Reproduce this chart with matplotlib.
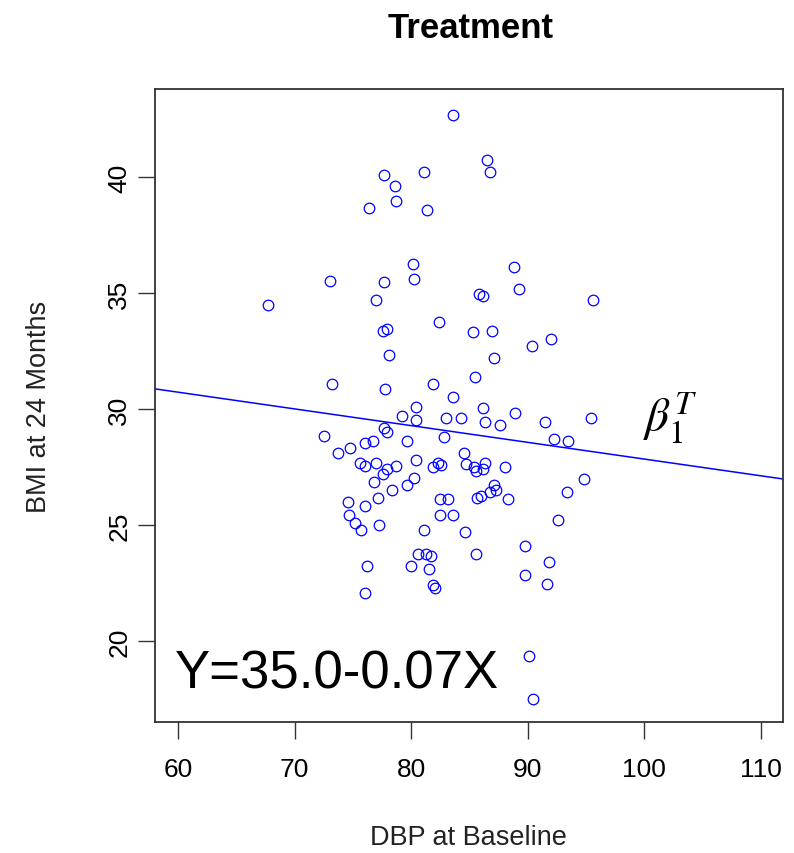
import matplotlib
matplotlib.use("Agg")
import matplotlib.pyplot as plt
import numpy as np

plt.rcParams['font.family'] = ['Liberation Sans', 'DejaVu Sans']
plt.rcParams['mathtext.fontset'] = 'stix'

# DBP at baseline (x) and BMI at 24 months (y)
dbp = [83.6, 86.5, 86.75, 81.08, 77.63, 78.57, 78.72, 76.35, 81.4, 80.14,
       88.83, 73.02, 77.63, 80.28, 89.29, 76.98, 85.81, 86.15, 95.58, 67.67,
       82.36, 77.55, 77.92, 85.33, 86.92, 91.97, 90.4, 78.09, 87.09, 85.5,
       73.19, 77.75, 81.85, 83.62, 80.4, 79.17, 80.45, 82.96, 84.25, 77.63,
       77.92, 82.79, 72.54, 79.63, 74.79, 73.68, 76.04, 76.69, 84.5, 80.4,
       75.64, 76.07, 76.98, 78.72, 82.28, 81.85, 82.56, 84.73, 77.92, 77.55,
       76.84, 80.2, 79.6, 78.38, 77.15, 74.62, 76.04, 74.65, 75.19, 75.73,
       77.26, 82.48, 83.16, 82.51, 83.62, 81.08, 84.64, 80.57, 81.31, 81.74,
       76.21, 79.97, 81.56, 81.85, 82.02, 76.04, 86.15, 86.3, 87.58, 88.95,
       91.51, 95.44, 92.28, 93.5, 85.38, 85.53, 86.32, 86.15, 88.03, 87.09,
       87.24, 86.75, 85.96, 85.67, 88.32, 93.36, 94.79, 92.59, 85.53, 89.74,
       91.79, 89.74, 91.65, 90.09, 90.43]
bmi = [42.66, 40.74, 40.22, 40.22, 40.08, 39.62, 38.96, 38.66, 38.58, 36.27,
       36.14, 35.54, 35.47, 35.61, 35.16, 34.71, 34.97, 34.86, 34.71, 34.5,
       33.76, 33.38, 33.47, 33.31, 33.38, 33.01, 32.71, 32.34, 32.19, 31.37,
       31.07, 30.87, 31.07, 30.51, 30.1, 29.69, 29.53, 29.6, 29.6, 29.16,
       28.99, 28.78, 28.84, 28.61, 28.31, 28.11, 28.54, 28.61, 28.11, 27.81,
       27.69, 27.52, 27.68, 27.52, 27.69, 27.51, 27.58, 27.62, 27.39, 27.21,
       26.86, 27.02, 26.7, 26.49, 26.17, 25.98, 25.8, 25.44, 25.08, 24.76,
       24.98, 26.1, 26.1, 25.44, 25.44, 24.76, 24.69, 23.73, 23.73, 23.66,
       23.21, 23.21, 23.11, 22.39, 22.29, 22.08, 30.05, 29.46, 29.29, 29.82,
       29.46, 29.6, 28.72, 28.64, 27.49, 27.31, 27.68, 27.42, 27.49, 26.73,
       26.49, 26.41, 26.23, 26.16, 26.1, 26.4, 26.97, 25.22, 23.73, 24.09,
       23.4, 22.82, 22.47, 19.33, 17.48]

# fitted line
intercept = 35.05
slope = -0.0721

x_ticks = [60, 70, 80, 90, 100, 110]
y_ticks = [20, 25, 30, 35, 40]

fig = plt.figure(figsize=(7.94, 8.54), dpi=100)
ax = fig.add_axes([0.195, 0.1534, 0.791, 0.7412])

ax.plot(dbp, bmi, 'o', ms=7.6, mfc='none', mec='#0000ff', mew=0.9)
ax.axline((0, intercept), slope=slope, color='#0000ff', lw=1.1)

ax.set_xlim(58.0, 111.9)
ax.set_ylim(16.5, 43.8)
ax.set_xticks(x_ticks)
ax.set_yticks(y_ticks)
ax.tick_params(length=12, width=1, labelsize=19, color='#333333')
ax.tick_params(axis='x', pad=13)
ax.tick_params(axis='y', pad=5)
plt.setp(ax.get_yticklabels(), rotation=90, va='center')
for s in ax.spines.values():
    s.set_linewidth(1.3)
    s.set_color('#333333')

ax.set_xlabel('DBP at Baseline', fontsize=19.5, labelpad=31, color='#222222')
ax.set_ylabel('BMI at 24 Months', fontsize=19.5, labelpad=40, color='#222222')
fig.text(0.593, 0.967, 'Treatment', fontsize=25, fontweight='bold',
         ha='center', va='center')

ax.text(0.032, 0.055, 'Y=35.0-0.07X', transform=ax.transAxes,
        fontsize=38, va='baseline', ha='left')
ax.text(0.777, 0.482, r'$\beta_1^T$', transform=ax.transAxes,
        fontsize=34, va='center', ha='left')

fig.savefig('out.png', dpi=100)
